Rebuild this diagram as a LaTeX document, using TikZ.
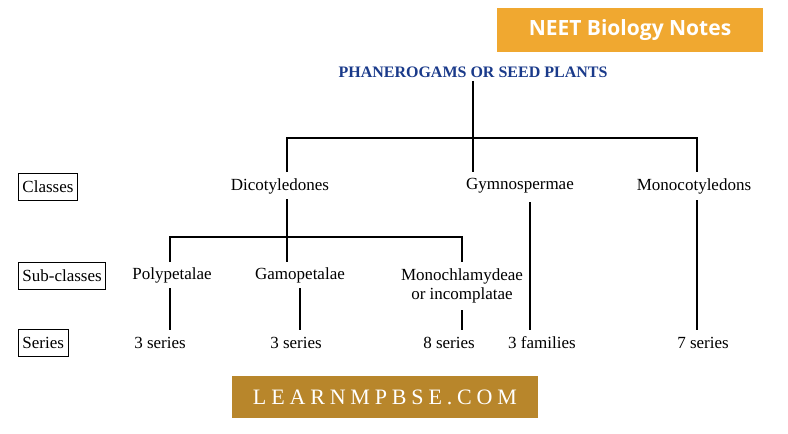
\documentclass[tikz,border=0pt]{standalone}
\usepackage{fontspec}
\setmainfont{Liberation Serif}
\newfontfamily\sansf{Open Sans}
\definecolor{neet}{HTML}{F0A830}
\definecolor{learn}{HTML}{B8862B}
\definecolor{titleblue}{HTML}{1A3A8A}
\begin{document}
\begin{tikzpicture}[x=1pt,y=-1pt,
  lbl/.style={font=\fontsize{17}{19}\selectfont, inner sep=1pt},
  tag/.style={draw, line width=0.9pt, font=\fontsize{17}{19}\selectfont, anchor=west, minimum height=27pt, inner xsep=4pt},
  ln/.style={line width=1.1pt}]
\useasboundingbox (0,0) rectangle (788,434);
\node[fill=neet, text=white, font=\sansf\bfseries\fontsize{21}{24}\selectfont, minimum width=266pt, minimum height=44pt] (neet) at (630,30) {NEET Biology Notes};
\node[text=titleblue, font=\bfseries\fontsize{16}{18}\selectfont] (title) at (473,72) {PHANEROGAMS OR SEED PLANTS};
\node[tag] (cl) at (18,187) {Classes\hspace{8pt}};
\node[tag] (sc) at (18,276) {Sub-classes};
\node[tag] (se) at (18,343) {Series\hspace{6pt}};
\node[lbl] (dic) at (280,186) {Dicotyledones};
\node[lbl] (gym) at (520,186) {Gymnospermae};
\node[lbl] (mon) at (694,186) {Monocotyledons};
\node[lbl] (pol) at (172,275) {Polypetalae};
\node[lbl] (gam) at (300,275) {Gamopetalae};
\node[lbl, align=center] (mch) at (462,286) {Monochlamydeae\\or incomplatae};
\node[lbl] (s1) at (160,343) {3 series};
\node[lbl] (s2) at (296,343) {3 series};
\node[lbl] (s3) at (449,343) {8 series};
\node[lbl] (s4) at (542,343) {3 families};
\node[lbl] (s5) at (703,343) {7 series};
\coordinate (h1) at (473,138);
\draw[ln] (title.south) -- (h1);
\draw[ln] (287,172) |- (697,138) -- (697,172);
\draw[ln] (473,138) -- (473,172);
\draw[ln] (287,199) -- (287,237);
\draw[ln] (170,262) |- (462,237) -- (462,262);
\draw[ln] (287,237) -- (287,262);
\draw[ln] (530,202) -- (530,330);
\draw[ln] (697,200) -- (697,330);
\draw[ln] (170,288) -- (170,330);
\draw[ln] (300,288) -- (300,330);
\draw[ln] (462,310) -- (462,330);
\node[fill=learn, text=white, font=\fontsize{22}{24}\selectfont, minimum width=306pt, minimum height=42pt] (learn) at (385,397) {\addfontfeatures{LetterSpace=22}LEARNMPBSE.COM};
\end{tikzpicture}
\end{document}
